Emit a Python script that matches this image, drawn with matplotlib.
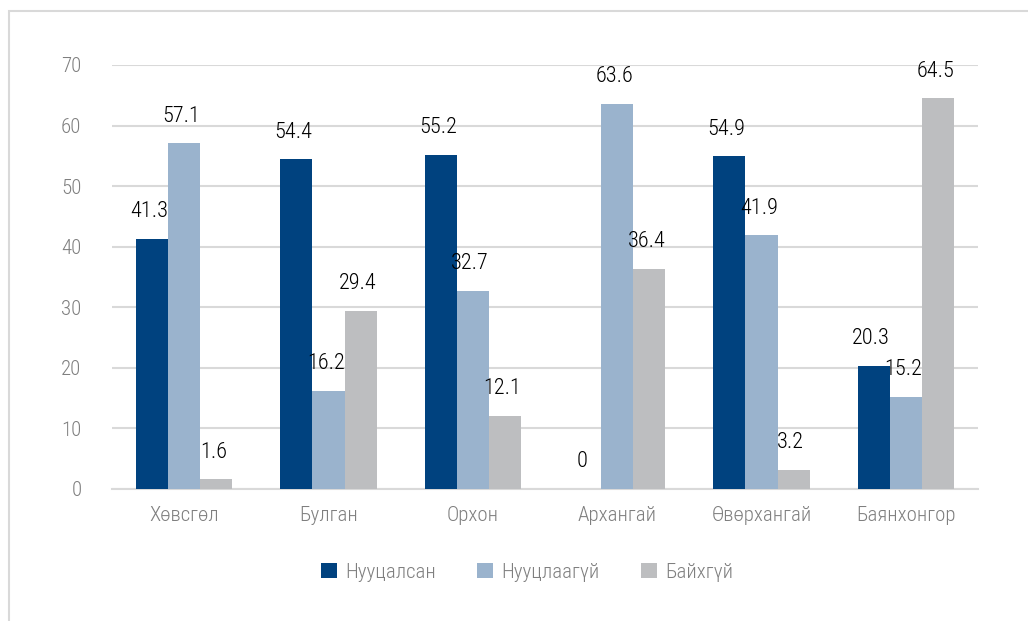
import matplotlib.pyplot as plt
import matplotlib.patches as mpatches
import numpy as np
from matplotlib import font_manager

# data
regions = ["Хөвсгөл", "Булган", "Орхон", "Архангай", "Өвөрхангай", "Баянхонгор"]
series_names = ["Нууцалсан", "Нууцлаагүй", "Байхгүй"]
hidden = [41.3, 54.4, 55.2, 0, 54.9, 20.3]
not_hidden = [57.1, 16.2, 32.7, 63.6, 41.9, 15.2]
none_ = [1.6, 29.4, 12.1, 36.4, 3.2, 64.5]
colors = ["#00427F", "#9AB3CD", "#BDBEC0"]

names = {f.name for f in font_manager.fontManager.ttflist}
fam = [f for f in ["Roboto Condensed", "Liberation Sans Narrow", "Roboto", "DejaVu Sans"] if f in names]
plt.rcParams['font.family'] = fam
plt.rcParams['font.weight'] = 300

fig = plt.figure(figsize=(10.28, 6.21), dpi=100)
ax = fig.add_axes([112/1028, 1-489/621, 866/1028, 424/621])

# outer frame
fig.patches.append(mpatches.Rectangle((9/1028, -0.1), 1.1, 1-11/621+0.1,
                                      transform=fig.transFigure, fill=False,
                                      edgecolor="#D9D9D9", linewidth=1.5))

x = np.arange(len(regions))
w = 1/4.5
for i, (vals, name) in enumerate(zip([hidden, not_hidden, none_], series_names)):
    bars = ax.bar(x + (i-1)*w, vals, w, color=colors[i], label=name, zorder=3)
    for b, v in zip(bars, vals):
        ax.annotate(f"{v:g}", (b.get_x() + b.get_width()/2, v),
                    xytext=(-2, 19.5), textcoords="offset points",
                    ha="center", va="center", fontsize=16, color="#000000")

ax.set_xlim(-0.5, len(regions)-0.5)
ax.set_ylim(0, 70)
ax.set_yticks(range(0, 71, 10))
ax.yaxis.grid(True, color="#D9D9D9", linewidth=1.5, zorder=0)
for s in ["top", "right", "left"]:
    ax.spines[s].set_visible(False)
ax.spines["bottom"].set_color("#D9D9D9")
ax.spines["bottom"].set_linewidth(1.5)
ax.tick_params(axis="both", length=0, labelsize=15, colors="#7F7F7F")
ax.tick_params(axis="y", pad=22)
ax.tick_params(axis="x", pad=12)
ax.set_xticks(x)
ax.set_xticklabels(regions)

fig.legend(loc="center", bbox_to_anchor=(527/1028, 1-572/621), ncol=3, frameon=False,
           fontsize=15, handlelength=0.75, handleheight=0.75, handletextpad=0.4,
           columnspacing=2.0, labelcolor="#7F7F7F")

fig.savefig("out.png", dpi=100)
